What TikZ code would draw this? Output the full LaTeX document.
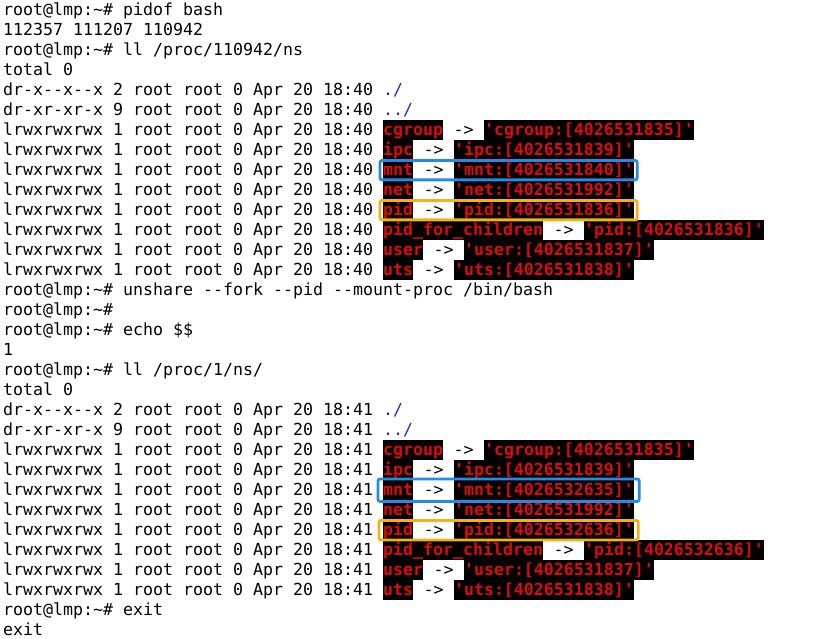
\documentclass[tikz,border=0pt]{standalone}
\usepackage{fontspec}
\setmonofont{DejaVu Sans Mono}
\usepackage{tikz}
\usetikzlibrary{positioning, fit}
\usepackage{xcolor}

\definecolor{termred}{RGB}{225,10,10}
\definecolor{dirblue}{RGB}{40,40,190}
\definecolor{boxblue}{RGB}{36,138,230}
\definecolor{boxorange}{RGB}{245,178,20}
\newcommand{\termfont}{\ttfamily\fontsize{16.61}{20}\selectfont}
\newcommand{\prompt}{root@lmp:\textasciitilde\#}

\begin{document}
\begin{tikzpicture}[x=1pt, y=1pt,
    term/.style={inner xsep=0pt, inner ysep=2pt, text height=13pt, text depth=3pt, font=\termfont, anchor=north west},
    nsname/.style={term, fill=black, text=termred, font=\termfont\bfseries},
    arrowtxt/.style={term, fill=white},
    dirtxt/.style={term, text=dirblue},
    mntbox/.style={draw=boxblue, line width=2.8pt, rounded corners=2pt, inner xsep=3pt, inner ysep=-0.5pt},
    pidbox/.style={draw=boxorange, line width=2.8pt, rounded corners=2pt, inner xsep=3pt, inner ysep=-0.5pt}]
    \fill[white] (0,0) rectangle (820,-639);
    \useasboundingbox (0,0) rectangle (820,-639);

    % before unshare
    \node[term] (l1) at (3,0) {\prompt{} pidof bash};
    \node[term] (l2) at (3,-20) {112357 111207 110942};
    \node[term] (l3) at (3,-40) {\prompt{} ll /proc/110942/ns};
    \node[term] (l4) at (3,-60) {total 0};
    \node[term] (l5) at (3,-80) {dr-x--x--x 2 root root 0 Apr 20 18:40};
    \node[dirtxt] (d5) at (383,-80) {./};
    \node[term] (l6) at (3,-100) {dr-xr-xr-x 9 root root 0 Apr 20 18:40};
    \node[dirtxt] (d6) at (383,-100) {../};

    % after unshare
    \node[term] (l15) at (3,-280) {\prompt{} unshare --fork --pid --mount-proc /bin/bash};
    \node[term] (l16) at (3,-300) {\prompt};
    \node[term] (l17) at (3,-320) {\prompt{} echo \$\$};
    \node[term] (l18) at (3,-340) {1};
    \node[term] (l19) at (3,-360) {\prompt{} ll /proc/1/ns/};
    \node[term] (l20) at (3,-380) {total 0};
    \node[term] (l21) at (3,-400) {dr-x--x--x 2 root root 0 Apr 20 18:41};
    \node[dirtxt] (d21) at (383,-400) {./};
    \node[term] (l22) at (3,-420) {dr-xr-xr-x 9 root root 0 Apr 20 18:41};
    \node[dirtxt] (d22) at (383,-420) {../};
    \node[term] (l31) at (3,-600) {\prompt{} exit};
    \node[term] (l32) at (3,-620) {exit};

    % namespace links
    \foreach \r/\tm/\ns/\tg/\id in {
        7/40/cgroup/cgroup/4026531835, 8/40/ipc/ipc/4026531839,
        9/40/mnt/mnt/4026531840, 10/40/net/net/4026531992,
        11/40/pid/pid/4026531836, 12/40/pid\_for\_children/pid/4026531836,
        13/40/user/user/4026531837, 14/40/uts/uts/4026531838,
        23/41/cgroup/cgroup/4026531835, 24/41/ipc/ipc/4026531839,
        25/41/mnt/mnt/4026532635, 26/41/net/net/4026531992,
        27/41/pid/pid/4026532636, 28/41/pid\_for\_children/pid/4026532636,
        29/41/user/user/4026531837, 30/41/uts/uts/4026531838} {
      \node[term] (p\r) at (3,{-20*(\r-1)}) {lrwxrwxrwx 1 root root 0 Apr 20 18:\tm};
      \node[nsname] (n\r) at (383,{-20*(\r-1)}) {\ns};
      \node[arrowtxt, right=0pt of n\r] (a\r) {\mbox{\ ->\ }};
      \node[nsname, right=0pt of a\r] (t\r) {'\tg:[\id]'};
    }

    \node[mntbox, fit=(n9)(t9)] (mnt1) {};
    \node[pidbox, fit=(n11)(t11)] (pid1) {};
    \node[mntbox, fit=(n25)(t25), inner ysep=1pt, inner xsep=5pt] (mnt2) {};
    \node[pidbox, fit=(n27)(t27), inner xsep=4pt] (pid2) {};
\end{tikzpicture}
\end{document}
